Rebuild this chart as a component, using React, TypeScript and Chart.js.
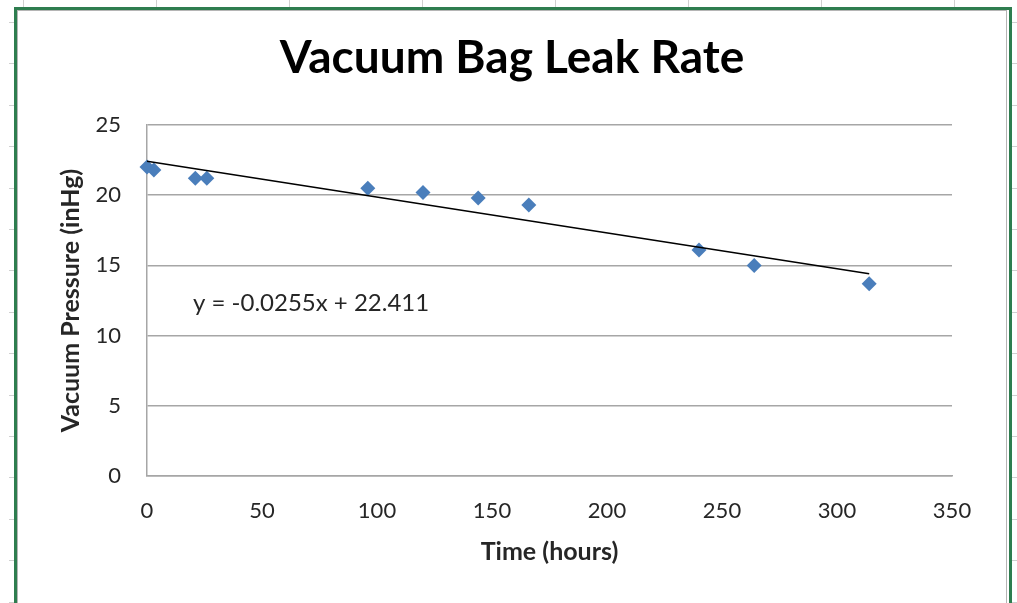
import React, { useEffect, useRef } from "react";
import { Chart, registerables } from "chart.js";

Chart.register(...registerables);

// ---- Data ----
const TITLE = "Vacuum Bag Leak Rate";
const X_TITLE = "Time (hours)";
const Y_TITLE = "Vacuum Pressure (inHg)";
const timeHours = [0, 3, 21, 26, 96, 120, 144, 166, 240, 264, 314];
const pressureInHg = [22.0, 21.8, 21.2, 21.2, 20.5, 20.2, 19.8, 19.3, 16.1, 15.0, 13.7];
const TREND_SLOPE = -0.0255;
const TREND_INTERCEPT = 22.411;
const EQUATION_LABEL = "y = -0.0255x + 22.411";
const X_MIN = 0, X_MAX = 350, X_STEP = 50;
const Y_MIN = 0, Y_MAX = 25, Y_STEP = 5;
const EQUATION_AT = { x: 20, y: 12.3 };

// spreadsheet decoration
const COLUMN_TICKS = [23, 156, 289, 422, 555, 688, 821, 954];
const ROW_TICKS = Array.from({ length: 15 }, (_, k) => 22 + 41.4 * k);

const FONT = "Lato, 'Open Sans', sans-serif";

export default function App() {
  const ref = useRef<HTMLCanvasElement | null>(null);

  useEffect(() => {
    document.body.style.margin = "0";
    const canvas = ref.current;
    if (!canvas) return;

    const scatterPoints = timeHours.map((t, i) => ({ x: t, y: pressureInHg[i] }));
    const tMin = Math.min(...timeHours);
    const tMax = Math.max(...timeHours);
    const trendPoints = [tMin, tMax].map((t) => ({ x: t, y: TREND_SLOPE * t + TREND_INTERCEPT }));

    const equationPlugin = {
      id: "equationLabel",
      afterDatasetsDraw(chart: any) {
        const { ctx, scales } = chart;
        ctx.save();
        ctx.font = `400 24px ${FONT}`;
        ctx.fillStyle = "#262626";
        ctx.textAlign = "left";
        ctx.textBaseline = "middle";
        ctx.fillText(EQUATION_LABEL, scales.x.getPixelForValue(EQUATION_AT.x), scales.y.getPixelForValue(EQUATION_AT.y));
        ctx.restore();
      },
    };

    const chart = new Chart(canvas, {
      type: "scatter",
      data: {
        datasets: [
          {
            label: "Linear trend",
            data: trendPoints,
            showLine: true,
            borderColor: "#000000",
            borderWidth: 1.5,
            pointRadius: 0,
            order: 0,
            clip: false,
          } as any,
          {
            label: "Pressure",
            data: scatterPoints,
            pointStyle: "rectRot",
            pointRadius: 7.5,
            backgroundColor: "#4a7ebb",
            borderColor: "#4a7ebb",
            borderWidth: 0,
            order: 1,
            clip: false,
          } as any,
        ],
      },
      options: {
        responsive: false,
        animation: false,
        layout: { padding: { left: 7, right: 0, top: 0, bottom: 0 } },
        plugins: {
          legend: { display: false },
          tooltip: { enabled: false },
          title: {
            display: true,
            text: TITLE,
            color: "#000000",
            font: { family: FONT, size: 46, weight: "bold", lineHeight: 1.2 },
            padding: { top: 31, bottom: 38.8 },
          },
        },
        scales: {
          x: {
            type: "linear",
            min: X_MIN,
            max: X_MAX,
            afterFit: (s: any) => { s.height = 127; },
            ticks: {
              stepSize: X_STEP,
              color: "#262626",
              font: { family: FONT, size: 22 },
              padding: 22,
              maxRotation: 0,
            },
            grid: { display: false, drawTicks: false },
            border: { display: true, color: "#a6a6a6", width: 1.5 },
            title: {
              display: true,
              text: X_TITLE,
              color: "#262626",
              font: { family: FONT, size: 25, weight: "bold", lineHeight: 1.2 },
              padding: { top: 0, bottom: 36 },
            },
          },
          y: {
            type: "linear",
            min: Y_MIN,
            max: Y_MAX,
            afterFit: (s: any) => { s.width = 140; },
            ticks: {
              stepSize: Y_STEP,
              color: "#262626",
              font: { family: FONT, size: 22 },
              padding: 26,
            },
            grid: { display: true, drawTicks: false, color: "#a6a6a6", lineWidth: 1.5 },
            border: { display: true, color: "#a6a6a6", width: 1.5 },
            title: {
              display: true,
              text: Y_TITLE,
              color: "#262626",
              font: { family: FONT, size: 25, weight: "bold", lineHeight: 1.2 },
              padding: { top: 49, bottom: 0 },
            },
          },
          yRightSpace: {
            type: "linear",
            position: "right",
            min: Y_MIN,
            max: Y_MAX,
            afterFit: (s: any) => { s.width = 65; },
            ticks: { display: false },
            grid: { display: false, drawTicks: false },
            border: { display: false },
            title: { display: false },
          },
        },
      } as any,
      plugins: [equationPlugin],
    });

    return () => chart.destroy();
  }, []);

  return (
    <div style={{ position: "absolute", left: 0, top: 0, width: 1017, height: 603, background: "#ffffff", overflow: "hidden" }}>
      {COLUMN_TICKS.map((x) => (
        <div key={"c" + x} style={{ position: "absolute", left: x, top: 0, width: 1, height: 8, background: "#d0d0d0" }} />
      ))}
      {ROW_TICKS.map((y) => (
        <div key={"rl" + y} style={{ position: "absolute", left: 9, top: Math.round(y), width: 6, height: 1, background: "#d0d0d0" }} />
      ))}
      {ROW_TICKS.map((y) => (
        <div key={"rr" + y} style={{ position: "absolute", left: 1012, top: Math.round(y), width: 5, height: 1, background: "#d0d0d0" }} />
      ))}
      <canvas ref={ref} width={1017} height={603} style={{ position: "absolute", left: 0, top: 0, display: "block" }} />
      <div style={{ position: "absolute", left: 14, top: 7, width: 992, height: 620, borderTop: "3px solid #2e7d4f", borderLeft: "3px solid #2e7d4f", borderRight: "3px solid #2e7d4f", pointerEvents: "none" }} />
      <div style={{ position: "absolute", left: 17, top: 10, width: 988, height: 620, borderTop: "1px solid #b5b5b5", borderLeft: "1px solid #b5b5b5", borderRight: "1px solid #b5b5b5", pointerEvents: "none" }} />
    </div>
  );
}
